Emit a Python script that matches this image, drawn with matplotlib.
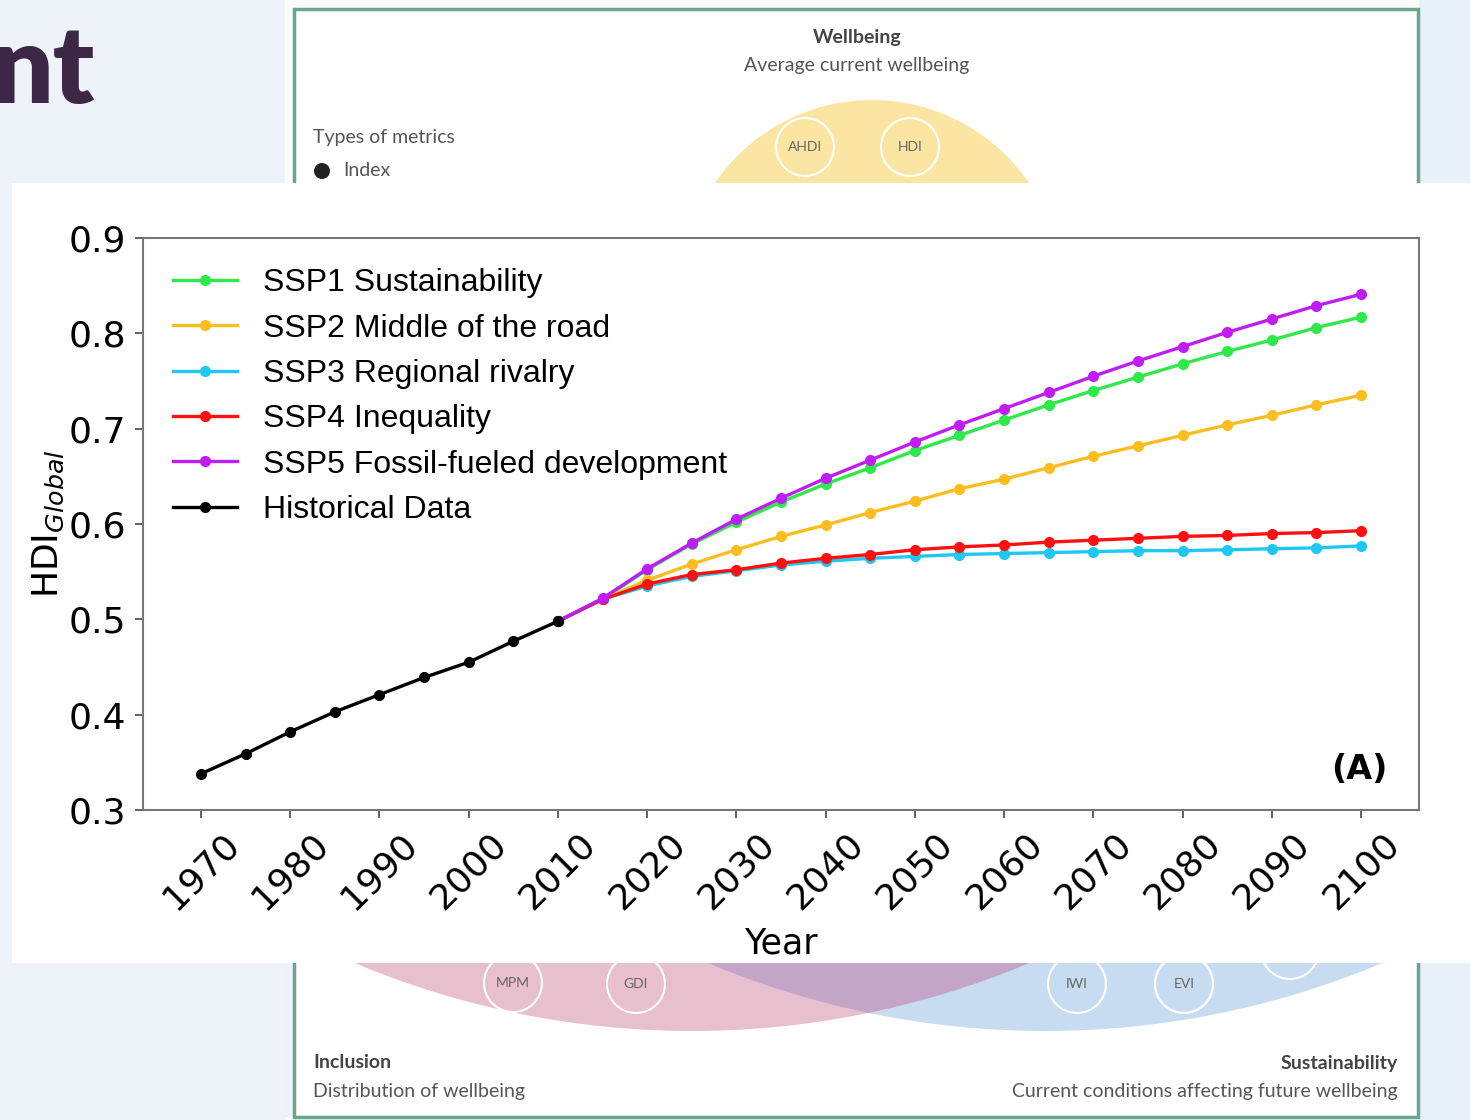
import numpy as np
import matplotlib
matplotlib.use("Agg")
import matplotlib.pyplot as plt
from matplotlib.patches import Rectangle, Circle

# HDI data
hist_years = [1970, 1975, 1980, 1985, 1990, 1995, 2000, 2005, 2010]
hist = [0.338, 0.359, 0.382, 0.403, 0.421, 0.439, 0.455, 0.477, 0.498]

ssp_years = list(range(2010, 2101, 5))
ssp1 = [0.498, 0.521, 0.552, 0.579, 0.602, 0.623, 0.642, 0.659, 0.677, 0.693,
        0.709, 0.725, 0.740, 0.754, 0.768, 0.781, 0.793, 0.806, 0.817]
ssp2 = [0.498, 0.521, 0.541, 0.558, 0.573, 0.587, 0.599, 0.612, 0.624, 0.637,
        0.647, 0.659, 0.671, 0.682, 0.693, 0.704, 0.714, 0.725, 0.735]
ssp3 = [0.498, 0.521, 0.535, 0.545, 0.551, 0.557, 0.561, 0.564, 0.566, 0.568,
        0.569, 0.570, 0.571, 0.572, 0.572, 0.573, 0.574, 0.575, 0.577]
ssp4 = [0.498, 0.521, 0.537, 0.547, 0.552, 0.559, 0.564, 0.568, 0.573, 0.576,
        0.578, 0.581, 0.583, 0.585, 0.587, 0.588, 0.590, 0.591, 0.593]
ssp5 = [0.498, 0.522, 0.553, 0.580, 0.605, 0.627, 0.648, 0.667, 0.686, 0.704,
        0.721, 0.738, 0.755, 0.771, 0.786, 0.801, 0.815, 0.829, 0.841]

labels = ["SSP1 Sustainability", "SSP2 Middle of the road", "SSP3 Regional rivalry",
          "SSP4 Inequality", "SSP5 Fossil-fueled development", "Historical Data"]
colors = ["#2fe84a", "#fcbd1e", "#1ec8f2", "#ff1010", "#c01cf5", "#000000"]

x_ticks = list(range(1970, 2101, 10))
y_ticks = [0.3, 0.4, 0.5, 0.6, 0.7, 0.8, 0.9]

fig = plt.figure(figsize=(14.7, 11.2), dpi=100)
fig.patch.set_facecolor("#ecf2f9")

# background slide (pixel coordinates)
bg = fig.add_axes([0, 0, 1, 1])
bg.set_xlim(0, 1470)
bg.set_ylim(1120, 0)
bg.axis("off")

# venn shapes at the bottom of the slide picture
bg.add_patch(Rectangle((294, 963), 1124, 154, facecolor="white", edgecolor="none",
                       zorder=0.5))
bot_clip = Rectangle((294, 963), 1124, 154, transform=bg.transData)
pink = Circle((692, 160), 871, facecolor="#e7bfcd", edgecolor="none", zorder=1)
bg.add_patch(pink)
pink.set_clip_path(bot_clip)
blue = Circle((1045, 160), 871, facecolor="#c8dcf1", edgecolor="none", zorder=1)
bg.add_patch(blue)
blue.set_clip_path(bot_clip)
both = Circle((692, 160), 871, facecolor="#c4a5c8", edgecolor="none", zorder=1.1)
bg.add_patch(both)
both.set_clip_path(Circle((1045, 160), 871, transform=bg.transData))

# cover everything outside the bottom band
bg.add_patch(Rectangle((0, 0), 285, 1120, facecolor="#edf3f9", edgecolor="none", zorder=2))
bg.add_patch(Rectangle((1419, 0), 51, 1120, facecolor="#e8f0f8", edgecolor="none", zorder=2))
bg.add_patch(Rectangle((285, 0), 1134, 963, facecolor="#fbfdfc", edgecolor="none", zorder=2))
bg.add_patch(Rectangle((294, 9), 1124, 954, facecolor="white", edgecolor="none", zorder=2))
bg.add_patch(Rectangle((285, 1117), 1134, 3, facecolor="#fbfdfc", edgecolor="none", zorder=2))
bg.add_patch(Rectangle((294, 9), 1124, 1108, facecolor="none", edgecolor="#6aa58e",
                       lw=2.5, zorder=3))

top_clip = Rectangle((294, 9), 1124, 174, transform=bg.transData)
yel = Circle((872, 290), 190, facecolor="#fbe5a3", edgecolor="none", zorder=3)
bg.add_patch(yel)
yel.set_clip_path(top_clip)

for cx, cy, t in [(805, 147, "AHDI"), (910, 147, "HDI"), (513, 983, "MPM"),
                  (636, 984, "GDI"), (1077, 984, "IWI"), (1184, 984, "EVI"),
                  (1290, 950, "")]:
    bg.add_patch(Circle((cx, cy), 29, facecolor="none", edgecolor="white", lw=1.5,
                        zorder=4))
    bg.text(cx, cy, t, ha="center", va="center", fontsize=10, color="#666666",
            family="Lato", zorder=4)
txt = dict(fontsize=14, family="Lato", zorder=4)
bg.text(857, 38, "Wellbeing", ha="center", va="center", fontweight="bold",
        color="#444444", **txt)
bg.text(857, 66, "Average current wellbeing", ha="center", va="center",
        color="#555555", **txt)
bg.text(313, 137, "Types of metrics", ha="left", va="center", color="#555555", **txt)
bg.add_patch(Circle((322, 171), 8, facecolor="#222222", edgecolor="none", zorder=4))
bg.text(343, 171, "Index", ha="left", va="center", color="#555555", **txt)
bg.text(313, 1063, "Inclusion", ha="left", va="center", fontweight="bold",
        color="#444444", **txt)
bg.text(313, 1091, "Distribution of wellbeing", ha="left", va="center",
        color="#555555", **txt)
bg.text(1398, 1063, "Sustainability", ha="right", va="center", fontweight="bold",
        color="#444444", **txt)
bg.text(1398, 1091, "Current conditions affecting future wellbeing", ha="right",
        va="center", color="#555555", **txt)
bg.text(95, 103, "nt", ha="right", va="baseline", fontsize=78,
        fontweight="heavy", color="#3c2747", family="Lato", zorder=4)
bg.add_patch(Rectangle((12, 183), 1458, 780, facecolor="white", edgecolor="none",
                       zorder=5))

# the chart
ax = fig.add_axes([143 / 1470, 1 - 810 / 1120, (1419 - 143) / 1470, (810 - 238) / 1120])
all_ssp = [ssp1, ssp2, ssp3, ssp4, ssp5]
for vals, lab, col in zip(all_ssp, labels[:5], colors[:5]):
    ax.plot(ssp_years, vals, "-o", color=col, lw=2.4, ms=7, label=lab)
ax.plot(hist_years, hist, "-o", color=colors[5], lw=2.4, ms=7, label=labels[5])

ax.set_ylim(0.3, 0.9)
ax.set_xticks(x_ticks)
ax.set_xticklabels([str(v) for v in x_ticks], rotation=45, fontsize=26)
ax.set_yticks(y_ticks)
ax.set_yticklabels(["%.1f" % v for v in y_ticks], fontsize=26)
ax.tick_params(length=6, width=1.3, color="#555555", pad=6)
for s in ax.spines.values():
    s.set_color("#777777")
    s.set_linewidth(1.5)
ax.set_xlabel("Year", fontsize=25, labelpad=8)
ax.set_ylabel(r"HDI$_{Global}$", fontsize=26, labelpad=2)
ax.text(0.975, 0.07, "(A)", transform=ax.transAxes, ha="right", va="center",
        fontsize=24, fontweight="bold")
ax.legend(loc="upper left", frameon=False, prop={"family": "Liberation Sans", "size": 23},
          handlelength=2.0, handletextpad=0.8, labelspacing=0.48,
          borderaxespad=0.55, borderpad=0.4)

fig.savefig("out.png", dpi=100, facecolor=fig.get_facecolor())
